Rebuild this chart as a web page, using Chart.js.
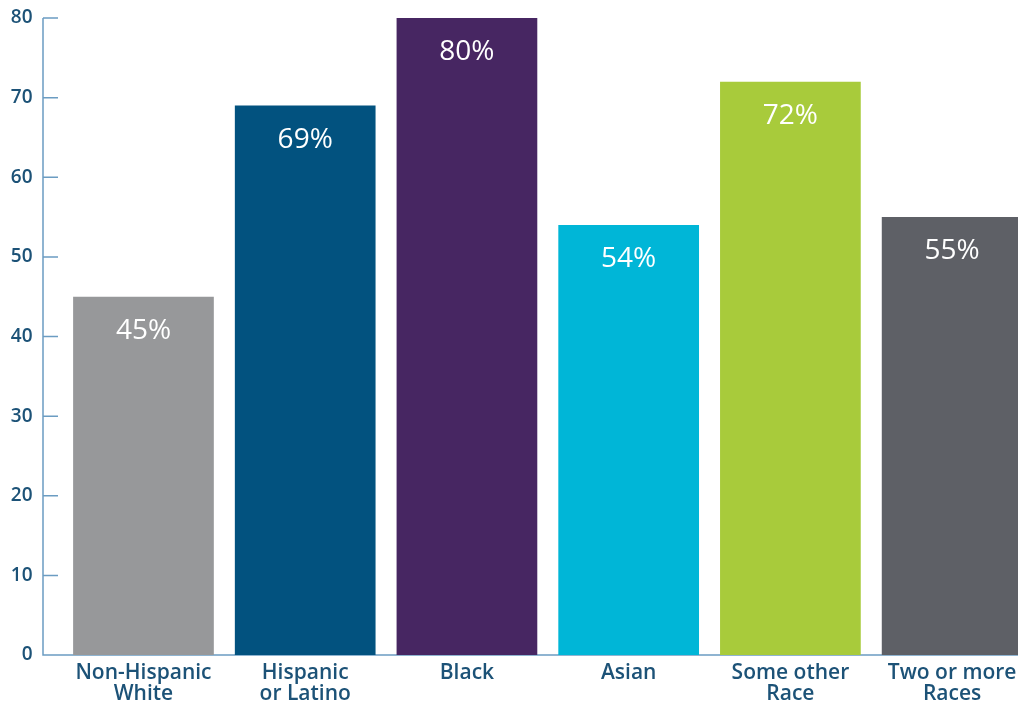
<!DOCTYPE html>
<html>
<head>
<meta charset="utf-8">
<script src="https://cdn.jsdelivr.net/npm/chart.js@4.4.0/dist/chart.umd.min.js"></script>
<style>
  html, body { margin: 0; padding: 0; background: #fff; overflow: hidden; }
  #wrap { width: 1040px; height: 707px; }
</style>
</head>
<body>
<div id="wrap"><canvas id="raceChart" width="1040" height="707"></canvas></div>
<script>
const categories = [
    ['Non-Hispanic', 'White'],
    ['Hispanic', 'or Latino'],
    ['Black'],
    ['Asian'],
    ['Some other', 'Race'],
    ['Two or more', 'Races']
];
const percentages = [45, 69, 80, 54, 72, 55];
const barColors = ['#97989a', '#02527f', '#472662', '#00b6d7', '#a8cb3b', '#5e6066'];
const yTicks = [0, 10, 20, 30, 40, 50, 60, 70, 80];

const axisColor = '#6b9cc2';
const textColor = '#1c5277';
const axisLineX = 43;

// axis line + inward tick marks, drawn left of the plot like the original
const axisLines = {
    id: 'axisLines',
    beforeDatasetsDraw(chart) {
        const ctx = chart.ctx;
        const y = chart.scales.y;
        const area = chart.chartArea;
        ctx.save();
        ctx.strokeStyle = axisColor;
        ctx.lineWidth = 1.5;
        ctx.beginPath();
        ctx.moveTo(axisLineX, y.getPixelForValue(yTicks[yTicks.length - 1]));
        ctx.lineTo(axisLineX, y.getPixelForValue(0));
        ctx.lineTo(area.right, y.getPixelForValue(0));
        yTicks.forEach(v => {
            if (v === 0) return;
            const py = y.getPixelForValue(v);
            ctx.moveTo(axisLineX, py);
            ctx.lineTo(axisLineX + 15, py);
        });
        ctx.stroke();
        ctx.restore();
    }
};

const barLabels = {
    id: 'barLabels',
    afterDatasetsDraw(chart) {
        const ctx = chart.ctx;
        const meta = chart.getDatasetMeta(0);
        ctx.save();
        ctx.fillStyle = '#ffffff';
        ctx.font = '500 28px "Open Sans"';
        ctx.textAlign = 'center';
        ctx.textBaseline = 'middle';
        meta.data.forEach((bar, i) => {
            ctx.fillText(percentages[i] + '%', bar.x, bar.y + 34);
        });
        ctx.restore();
    }
};

const ctxRace = document.getElementById('raceChart').getContext('2d');

const raceChart = new Chart(ctxRace, {
    type: 'bar',
    data: {
        labels: categories,
        datasets: [{
            data: percentages,
            backgroundColor: barColors,
            borderWidth: 0,
            barPercentage: 0.87,
            categoryPercentage: 1
        }]
    },
    options: {
        responsive: false,
        animation: false,
        layout: {
            padding: { top: 18, right: 7, bottom: -6, left: 0 }
        },
        plugins: {
            legend: { display: false },
            tooltip: { enabled: false }
        },
        scales: {
            x: {
                grid: { display: false, drawTicks: false },
                border: { display: false },
                ticks: {
                    color: textColor,
                    padding: 8,
                    maxRotation: 0,
                    autoSkip: false,
                    font: { family: 'Open Sans', size: 21, weight: '600', lineHeight: 1.0 }
                }
            },
            y: {
                min: 0,
                max: 80,
                afterFit(scale) {
                    scale.width = 62.6;
                    scale.paddingTop = 0;
                    scale.paddingBottom = 0;
                },
                grid: { display: false, drawTicks: false },
                border: { display: false },
                ticks: {
                    stepSize: 10,
                    color: textColor,
                    padding: 30,
                    font: { family: 'Open Sans', size: 19, weight: '600' }
                }
            }
        }
    },
    plugins: [axisLines, barLabels]
});
</script>
</body>
</html>
